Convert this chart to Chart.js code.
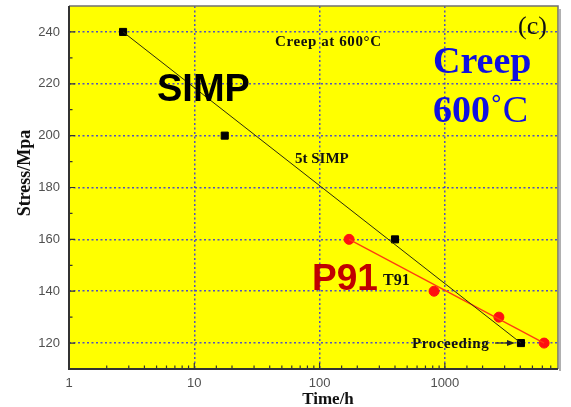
<!DOCTYPE html>
<html>
<head>
<meta charset="utf-8">
<script src="https://cdn.jsdelivr.net/npm/chart.js@4/dist/chart.umd.min.js"></script>
<style>
  html, body { margin: 0; padding: 0; background: #fff; }
  #wrap { width: 571px; height: 407px; }
</style>
</head>
<body>
<div id="wrap"><canvas id="creepChart" width="571" height="407"></canvas></div>
<script>
// rupture time (h) vs stress (MPa), creep at 600 C
const simpHours = [2.7, 17.5, 400, 4050];
const simpStress = [240, 200, 160, 120];
const p91Hours = [172, 820, 2700, 6200];
const p91Stress = [160, 140, 130, 120];

const xTickLabels = [1, 10, 100, 1000];
const yTickLabels = [120, 140, 160, 180, 200, 220, 240];

const toPoints = (xs, ys) => xs.map((x, i) => ({ x: x, y: ys[i] }));
const endPoints = (xs, ys) => [{ x: xs[0], y: ys[0] }, { x: xs[xs.length - 1], y: ys[ys.length - 1] }];

const GRID_BLUE = 'rgba(50, 50, 225, 0.85)';

const isXMajor = v => xTickLabels.includes(v) && v > 1;
const isYMajor = v => yTickLabels.includes(v);

// yellow plot background
const plotBackground = {
  id: 'plotBackground',
  beforeDraw(chart) {
    const { ctx, chartArea: a } = chart;
    ctx.save();
    ctx.fillStyle = '#ffff00';
    ctx.fillRect(a.left, a.top, a.right - a.left, a.bottom - a.top);
    ctx.restore();
  }
};

// frame, inward tick marks, axis titles and the annotations
const decorations = {
  id: 'decorations',
  afterDraw(chart) {
    const { ctx, chartArea: a } = chart;
    const xs = chart.scales.x, ys = chart.scales.y;
    ctx.save();

    // frame
    ctx.strokeStyle = '#b0b0b0';
    ctx.lineWidth = 2;
    ctx.beginPath();
    ctx.moveTo(a.right + 2, a.top + 3);
    ctx.lineTo(a.right + 2, a.bottom + 2);
    ctx.stroke();
    ctx.strokeStyle = '#707070';
    ctx.lineWidth = 1.5;
    ctx.beginPath();
    ctx.moveTo(a.left, a.top);
    ctx.lineTo(a.right, a.top);
    ctx.lineTo(a.right, a.bottom);
    ctx.stroke();
    ctx.strokeStyle = '#333';
    ctx.lineWidth = 2;
    ctx.beginPath();
    ctx.moveTo(a.left, a.top);
    ctx.lineTo(a.left, a.bottom);
    ctx.lineTo(a.right, a.bottom);
    ctx.stroke();

    // inward ticks
    ctx.lineWidth = 1.2;
    ctx.strokeStyle = '#333';
    ctx.beginPath();
    xs.ticks.forEach(t => {
      const px = xs.getPixelForValue(t.value);
      if (px <= a.left + 1 || px >= a.right - 1) return;
      const len = isXMajor(t.value) ? 6 : 3.5;
      ctx.moveTo(px, a.bottom);
      ctx.lineTo(px, a.bottom - len);
    });
    ys.ticks.forEach(t => {
      const py = ys.getPixelForValue(t.value);
      if (py <= a.top + 1 || py >= a.bottom - 1) return;
      const len = isYMajor(t.value) ? 6 : 3.5;
      ctx.moveTo(a.left, py);
      ctx.lineTo(a.left + len, py);
    });
    ctx.stroke();

    // axis titles
    ctx.fillStyle = '#111';
    ctx.font = 'bold 17px "Liberation Serif"';
    ctx.textAlign = 'center';
    ctx.textBaseline = 'alphabetic';
    ctx.fillText('Time/h', 328, 404);
    ctx.save();
    ctx.translate(30, 173);
    ctx.rotate(-Math.PI / 2);
    ctx.font = 'bold 18px "Liberation Serif"';
    ctx.fillText('Stress/Mpa', 0, 0);
    ctx.restore();

    // annotations
    ctx.textAlign = 'left';
    ctx.fillStyle = '#000';
    ctx.font = 'bold 38px "Liberation Sans"';
    ctx.fillText('SIMP', 157, 101);

    ctx.fillStyle = '#111';
    ctx.letterSpacing = '0.6px';
    ctx.font = 'bold 15px "Liberation Serif"';
    ctx.fillText('Creep at 600°C', 275, 46);
    ctx.letterSpacing = '0px';

    ctx.font = '26px "Liberation Serif"';
    ctx.fillText('(c)', 518, 34);

    ctx.fillStyle = '#1010e0';
    ctx.font = 'bold 38px "Liberation Serif"';
    ctx.fillText('Creep', 433, 73);
    ctx.fillText('600', 433, 122);
    const w600 = ctx.measureText('600').width;
    ctx.font = '38px "Liberation Serif"';
    ctx.fillText('˚C', 433 + w600, 122);

    ctx.fillStyle = '#111';
    ctx.font = 'bold 15px "Liberation Serif"';
    ctx.fillText('5t SIMP', 295, 163);

    ctx.fillStyle = '#c00000';
    ctx.font = 'bold 37px "Liberation Sans"';
    ctx.fillText('P91', 312, 290);

    ctx.fillStyle = '#111';
    ctx.font = 'bold 16px "Liberation Serif"';
    ctx.fillText('T91', 383, 285);

    ctx.letterSpacing = '0.6px';
    ctx.font = 'bold 15px "Liberation Serif"';
    ctx.fillText('Proceeding', 412, 348);
    ctx.letterSpacing = '0px';

    // arrow to the running test
    ctx.strokeStyle = '#222';
    ctx.fillStyle = '#222';
    ctx.lineWidth = 1.2;
    ctx.beginPath();
    ctx.moveTo(495, 343);
    ctx.lineTo(510, 343);
    ctx.stroke();
    ctx.beginPath();
    ctx.moveTo(515, 343);
    ctx.lineTo(507, 340);
    ctx.lineTo(507, 346);
    ctx.closePath();
    ctx.fill();

    ctx.restore();
  }
};

const ctx = document.getElementById('creepChart').getContext('2d');
new Chart(ctx, {
  type: 'scatter',
  data: {
    datasets: [
      {
        label: 'SIMP fit',
        data: endPoints(simpHours, simpStress),
        showLine: true,
        borderColor: '#2a2a10',
        borderWidth: 1,
        pointRadius: 0
      },
      {
        label: 'T91 fit',
        data: endPoints(p91Hours, p91Stress),
        showLine: true,
        borderColor: '#ff3c10',
        borderWidth: 1.3,
        pointRadius: 0
      },
      {
        label: 'T91',
        data: toPoints(p91Hours, p91Stress),
        pointStyle: 'circle',
        pointRadius: 5,
        backgroundColor: '#ff1010',
        borderColor: '#ff1010'
      },
      {
        label: '5t SIMP',
        data: toPoints(simpHours, simpStress),
        pointStyle: 'rect',
        pointRadius: 5,
        backgroundColor: '#000',
        borderColor: '#000'
      }
    ]
  },
  options: {
    responsive: false,
    animation: false,
    devicePixelRatio: 1,
    layout: { padding: { top: 4, right: 13, left: 0, bottom: 0 } },
    plugins: {
      legend: { display: false },
      tooltip: { enabled: false }
    },
    scales: {
      x: {
        type: 'logarithmic',
        min: 1,
        max: 8000,
        afterFit: s => { s.height = 38; s.paddingLeft = 0; s.paddingRight = 0; },
        border: { display: false, dash: [2, 2.5] },
        grid: {
          drawTicks: false,
          lineWidth: 1.5,
          color: c => (c.tick && isXMajor(c.tick.value)) ? GRID_BLUE : 'rgba(0,0,0,0)'
        },
        ticks: {
          autoSkip: false,
          maxRotation: 0,
          padding: 7,
          color: '#505050',
          font: { family: 'Liberation Sans', size: 13 },
          callback: v => xTickLabels.includes(v) ? String(v) : ''
        }
      },
      y: {
        min: 110,
        max: 250,
        afterFit: s => { s.width = 69; s.paddingTop = 0; s.paddingBottom = 0; },
        border: { display: false, dash: [2, 2.5] },
        grid: {
          drawTicks: false,
          lineWidth: 1.5,
          color: c => (c.tick && isYMajor(c.tick.value)) ? GRID_BLUE : 'rgba(0,0,0,0)'
        },
        ticks: {
          stepSize: 10,
          autoSkip: false,
          padding: 9,
          color: '#505050',
          font: { family: 'Liberation Sans', size: 13 },
          callback: v => yTickLabels.includes(v) ? String(v) : ''
        }
      }
    }
  },
  plugins: [plotBackground, decorations]
});
</script>
</body>
</html>
